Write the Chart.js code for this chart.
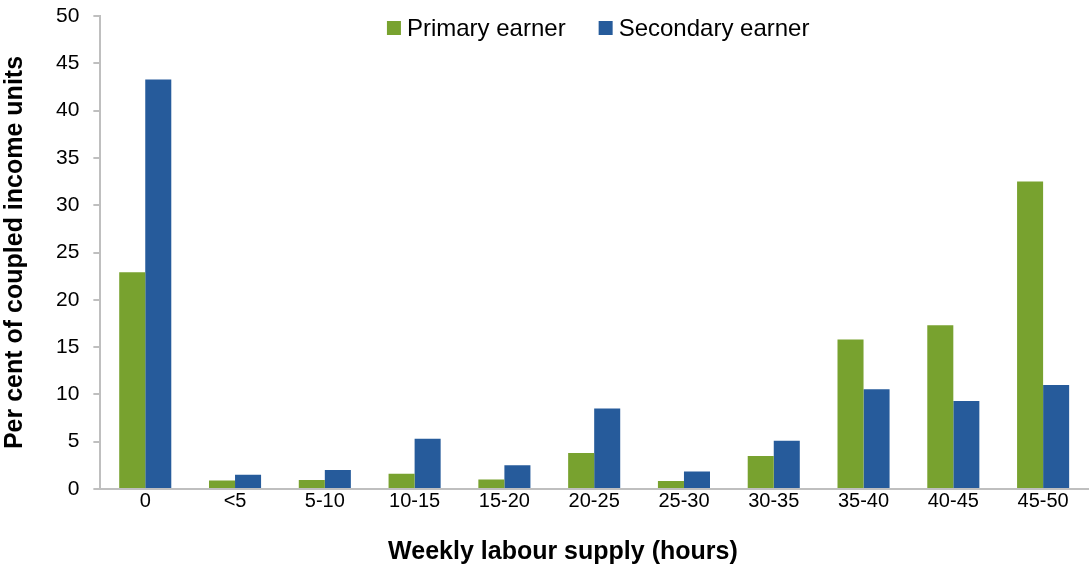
<!DOCTYPE html>
<html lang="en">
<head>
    <meta charset="UTF-8">
    <title>Weekly labour supply</title>
    <script src="https://cdn.jsdelivr.net/npm/chart.js"></script>
    <style>
        * { margin: 0; padding: 0; box-sizing: border-box; }
        body { background: #fff; }
        .wrap { width: 1091px; height: 570px; position: relative; }
    </style>
</head>
<body>
    <div class="wrap">
        <canvas id="labourChart"></canvas>
    </div>
    <script>
        // Data
        const categories = ['0', '<5', '5-10', '10-15', '15-20', '20-25', '25-30', '30-35', '35-40', '40-45', '45-50'];
        const primaryEarner = [22.9, 0.9, 0.95, 1.6, 1.0, 3.8, 0.85, 3.5, 15.8, 17.3, 32.5];
        const secondaryEarner = [43.3, 1.5, 2.0, 5.3, 2.5, 8.5, 1.85, 5.1, 10.55, 9.3, 11.0];
        const yTicks = [0, 5, 10, 15, 20, 25, 30, 35, 40, 45, 50];

        const GREEN = '#78a22f';
        const BLUE = '#265b9b';
        const AXIS = '#bfbfbf';
        const FONT = "'Liberation Sans', Arial, sans-serif";

        // legend drawn inside the plot area, like the original
        const insideLegend = {
            id: 'insideLegend',
            afterDraw(chart) {
                const ctx = chart.ctx;
                const area = chart.chartArea;
                const items = chart.data.datasets.map(ds => ({ text: ds.label, color: ds.backgroundColor }));
                ctx.save();
                ctx.font = '24px ' + FONT;
                ctx.textBaseline = 'middle';
                const box = 14, gap = 6, spacing = 33;
                const widths = items.map(it => box + gap + ctx.measureText(it.text).width);
                const total = widths.reduce((a, b) => a + b, 0) + spacing * (items.length - 1);
                let x = (area.left + area.right) / 2 + 4 - total / 2;
                const y = area.top + 12;
                items.forEach((it, i) => {
                    ctx.fillStyle = it.color;
                    ctx.fillRect(x, y - box / 2, box, box);
                    ctx.fillStyle = '#000';
                    ctx.fillText(it.text, x + box + gap, y + 1);
                    x += widths[i] + spacing;
                });
                ctx.restore();
            }
        };

        const ctx = document.getElementById('labourChart').getContext('2d');
        new Chart(ctx, {
            type: 'bar',
            data: {
                labels: categories,
                datasets: [
                    { label: 'Primary earner', data: primaryEarner, backgroundColor: GREEN },
                    { label: 'Secondary earner', data: secondaryEarner, backgroundColor: BLUE }
                ]
            },
            options: {
                responsive: true,
                maintainAspectRatio: false,
                animation: false,
                datasets: {
                    bar: { barPercentage: 1.0, categoryPercentage: 0.58 }
                },
                layout: { padding: { top: 16, right: 3, bottom: 3, left: 0 } },
                plugins: {
                    legend: { display: false },
                    tooltip: { enabled: false }
                },
                scales: {
                    x: {
                        grid: { display: false, drawTicks: false },
                        border: { display: true, color: AXIS, width: 2 },
                        ticks: { color: '#000', font: { family: FONT, size: 20 }, padding: 0, maxRotation: 0 },
                        title: {
                            display: true,
                            // trailing spaces nudge the title left, as in the original
                            text: 'Weekly labour supply (hours)         ',
                            color: '#000',
                            font: { family: FONT, size: 25, weight: 'bold' },
                            padding: { top: 24, bottom: 0 }
                        }
                    },
                    y: {
                        min: 0,
                        max: 50,
                        afterBuildTicks: axis => { axis.ticks = yTicks.map(v => ({ value: v })); },
                        // the tick padding should not push the plot area down
                        afterFit: axis => { axis.paddingTop = 0; axis.paddingBottom = 0; },
                        grid: { drawOnChartArea: false, color: AXIS, tickLength: 7, lineWidth: 2 },
                        border: { display: true, color: AXIS, width: 2 },
                        ticks: { color: '#000', font: { family: FONT, size: 21 }, padding: 14 },
                        title: {
                            display: true,
                            text: 'Per cent of coupled income units',
                            color: '#000',
                            font: { family: FONT, size: 25, weight: 'bold' },
                            padding: { top: 0, bottom: 12 }
                        }
                    }
                }
            },
            plugins: [insideLegend]
        });
    </script>
</body>
</html>
